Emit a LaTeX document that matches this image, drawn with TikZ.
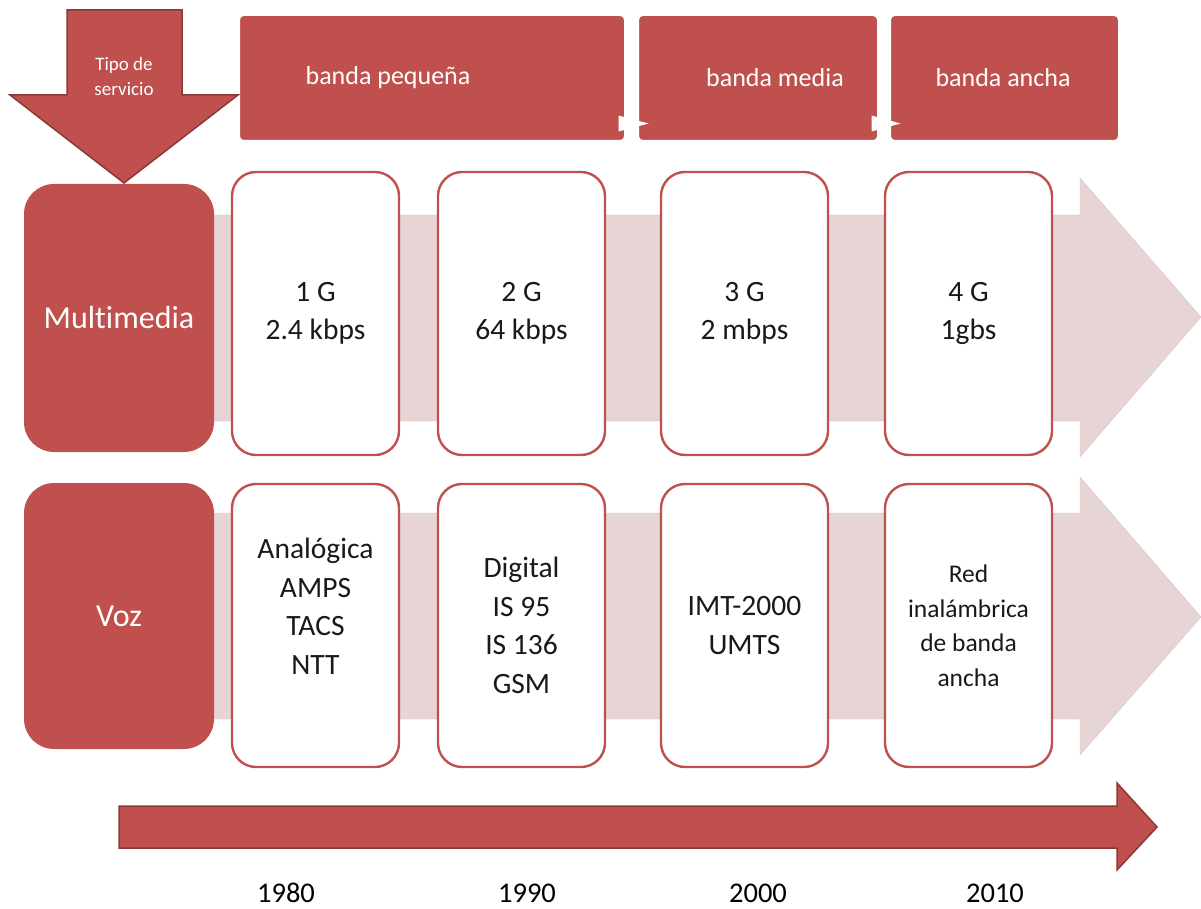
\documentclass[tikz,border=0pt]{standalone}
\usepackage{fontspec}
\setmainfont{Carlito}[Ligatures={NoCommon}]
\usetikzlibrary{positioning, calc, shadows}
\definecolor{rojo}{HTML}{C0504D}
\definecolor{rojoosc}{HTML}{8C3836}
\definecolor{rosa}{HTML}{E7D4D5}
\definecolor{rosaborde}{HTML}{DCC4C5}

\begin{document}
\begin{tikzpicture}[x=1pt,y=-1pt,
    caja/.style={draw=rojo, line width=2.4pt, fill=white, rounded corners=24pt, outer sep=0pt, inner sep=0pt,
      minimum width=167pt, minimum height=283pt, align=center, text=black!90, font=\fontsize{29.5}{38.5}\selectfont},
    servicio/.style={fill=rojo, rounded corners=30pt, outer sep=0pt, inner sep=0pt, minimum width=190pt,
      text=white, font=\fontsize{32}{36}\selectfont},
    banda/.style={fill=rojo, draw=white, line width=3pt, rounded corners=5pt, outer sep=0pt, minimum height=127pt,
      drop shadow={opacity=0.25, shadow xshift=0.5pt, shadow yshift=-1.5pt}},
    rotulo/.style={text=white, font=\fontsize{26}{30}\selectfont},
    anio/.style={text=black, font=\fontsize{28.5}{32}\selectfont}]
    \useasboundingbox (0,0) rectangle (1201,909);

    \filldraw [rosa, draw=rosaborde] (150,215) -- (1080,215) -- (1080,178) -- (1201,317) -- (1080,457) -- (1080,421) -- (150,421) -- cycle;
    \filldraw [rosa, draw=rosaborde] (150,513) -- (1080,513) -- (1080,477) -- (1201,617) -- (1080,755) -- (1080,719) -- (150,719) -- cycle;

    \node [banda, minimum width=387pt] (pequena) at (432,78) {};
    \node [banda, minimum width=241pt] (media) at (758,78) {};
    \node [banda, minimum width=230pt] (ancha) at (1004.5,78) {};
    \node [rotulo] (tpequena) at (388,78) {banda pequeña};
    \node [rotulo] (tmedia) at (775,78) {banda media};
    \node [rotulo] (tancha) at (1003,78) {banda ancha};
    \fill [white] ($(pequena.south east)+(-7,-26)$) -- ++(0,16) -- ($(media.south west)+(11,-18)$) -- cycle;
    \fill [white] ($(media.south east)+(-7,-26)$) -- ++(0,16) -- ($(ancha.south west)+(11,-18)$) -- cycle;

    \filldraw [rojo, draw=rojoosc, line width=1.5pt] (67,10) -- (182,10) -- (182,95) -- (238,95) -- (124,183) -- (10,95) -- (67,95) -- cycle;
    \node [text=white, align=center, font=\fontsize{19}{25}\selectfont] (tipo) at (124,76) {Tipo de\\servicio};

    \node [servicio, minimum height=268pt] (multimedia) at (119,318) {Multimedia};
    \node [servicio, minimum height=266pt] (voz) at (119,616) {Voz};

    \begin{scope}[every node/.style=caja]
      \node (g1) at (315.5,313.5) {1 G\\2.4 kbps};
      \node [right=39pt of g1] (g2) {2 G\\64 kbps};
      \node [right=56pt of g2] (g3) {3 G\\2 mbps};
      \node [right=57pt of g3] (g4) {4 G\\1gbs};
      \node [below=29pt of g1] (v1) {Analógica\\AMPS\\TACS\\NTT\\~};
      \node [below=29pt of g2] (v2) {Digital\\IS 95\\IS 136\\GSM};
      \node [below=29pt of g3] (v3) {IMT-2000\\UMTS};
      \node [below=29pt of g4, font=\fontsize{25.5}{34.5}\selectfont] (v4) {Red\\inalámbrica\\de banda\\ancha};
    \end{scope}

    \filldraw [rojo, draw=rojoosc, line width=1.5pt] (119,806) -- (1117,806) -- (1117,783) -- (1157,827) -- (1117,870) -- (1117,848) -- (119,848) -- cycle;

    \node [anio] (a1980) at (286,893) {1980};
    \node [anio] (a1990) at (527,893) {1990};
    \node [anio] (a2000) at (758,893) {2000};
    \node [anio] (a2010) at (995,893) {2010};
\end{tikzpicture}
\end{document}
